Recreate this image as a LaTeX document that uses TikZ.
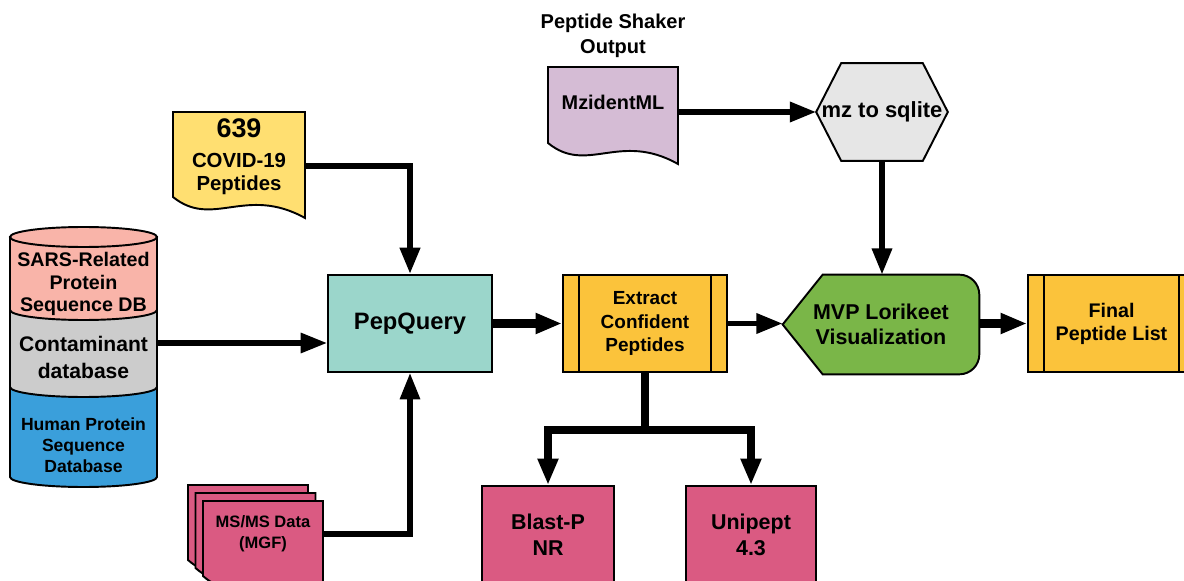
\documentclass[tikz,border=0pt]{standalone}
\usepackage{fontspec}
\setmainfont{Liberation Sans}
\usetikzlibrary{arrows.meta,calc,positioning,backgrounds}
\definecolor{dbpink}{HTML}{F9B4A9}
\definecolor{dbgray}{HTML}{CCCCCC}
\definecolor{dbblue}{HTML}{3A9FDB}
\definecolor{docyellow}{HTML}{FFDF71}
\definecolor{docpurple}{HTML}{D5BCD5}
\definecolor{mspink}{HTML}{DA5A82}
\definecolor{pepteal}{HTML}{9BD6CB}
\definecolor{procorange}{HTML}{FBC33B}
\definecolor{mvpgreen}{HTML}{7AB648}
\definecolor{hexgray}{HTML}{E6E6E6}

% document shape: fill, left, top, width, height of left side
\newcommand{\docshape}[5]{%
  \draw[shapeline, fill=#1] (#2,#3) -- ({#2+#4},#3) -- ({#2+#4},{#3+#5+21})
    .. controls ({#2+0.55*#4},{#3+#5-12}) and ({#2+0.3*#4},{#3+#5+32}) .. (#2,{#3+#5}) -- cycle;}

\begin{document}
\begin{tikzpicture}[x=0.02cm, y=-0.02cm,
  shapeline/.style={draw=black, line width=1.1pt},
  box/.style={shapeline, minimum width=3.28cm, minimum height=1.94cm, align=center, inner sep=0pt},
  txt/.style={align=center, inner sep=0pt},
  arr/.style={-{Triangle[length=15pt,width=11pt]}, line width=3.2pt},
  thickarr/.style={arr, line width=5.4pt}
]
  \useasboundingbox (0,0) rectangle (1184,581);
  \clip (0,0) rectangle (1184,581);

  % Sequence databases
  \foreach \yt/\yb/\col in {387/477/dbblue, 310/387/dbgray, 237/310/dbpink}
    \draw[shapeline, fill=\col] (10,\yt) -- (10,\yb)
      arc[start angle=180, end angle=360, x radius=1.47cm, y radius=0.2cm] -- (157,\yt) -- cycle;
  \draw[shapeline, fill=dbpink] (83.5,237) ellipse[x radius=1.47cm, y radius=0.2cm];
  \node[txt, font=\bfseries\fontsize{11.2}{13}\selectfont] (sars) at (83.5,284) {SARS-Related\\Protein\\Sequence DB};
  \node[txt, font=\bfseries\fontsize{12}{15.4}\selectfont] (contam) at (83.5,357) {Contaminant\\database};
  \node[txt, font=\bfseries\fontsize{10}{12}\selectfont] (human) at (83.5,445) {Human Protein\\Sequence\\Database};

  % Documents
  \docshape{docyellow}{173}{112}{132}{85}
  \node[txt, minimum width=2.64cm, font=\bfseries\fontsize{11.6}{13}\selectfont] (covid) at (239,157)
    {{\fontsize{15.3}{17}\selectfont 639}\\[4pt]COVID-19\\Peptides};
  \docshape{docpurple}{548}{67}{130}{76}
  \node[txt, minimum width=2.6cm, font=\bfseries\fontsize{11.3}{13}\selectfont] (mzid) at (613,102) {MzidentML};
  \node[txt, font=\bfseries\fontsize{11.4}{14.2}\selectfont] (shaker) at (613,36) {Peptide Shaker\\Output};
  \foreach \i in {0,1,2}
    \docshape{mspink}{188+7.5*\i}{485+8*\i}{120}{75}
  \node[txt, minimum width=2.4cm, font=\bfseries\fontsize{9.4}{12}\selectfont] (msms) at (263,534) {MS/MS Data\\(MGF)};

  % Process boxes
  \node[box, fill=pepteal, font=\bfseries\fontsize{13.5}{16}\selectfont] (pep) at (410,323.5) {PepQuery};
  \node[box, fill=procorange, font=\bfseries\fontsize{10.8}{13.4}\selectfont] (ext) at (645,323.5) {Extract\\Confident\\Peptides};
  \node[box, minimum width=3.34cm, fill=procorange, font=\bfseries\fontsize{11.2}{13}\selectfont] (fin) at (1111.5,323.5) {Final\\Peptide List};
  \foreach \n in {ext,fin} {
    \draw[shapeline] ($(\n.north west)+(17,0)$) -- ($(\n.south west)+(17,0)$);
    \draw[shapeline] ($(\n.north east)+(-17,0)$) -- ($(\n.south east)+(-17,0)$);
  }
  \node[box, minimum width=2.64cm, fill=mspink, font=\bfseries\fontsize{12.2}{14.8}\selectfont] (blast) at (548,534.5) {Blast-P\\NR};
  \node[box, minimum width=2.6cm, fill=mspink, font=\bfseries\fontsize{12.2}{14.8}\selectfont] (uni) at (751,534.5) {Unipept\\4.3};

  % Hexagon and display
  \node[txt, minimum width=2.62cm, minimum height=1.94cm, font=\bfseries\fontsize{12.5}{15}\selectfont] (mz) at (882,112) {mz to sqlite};
  \node[txt, minimum width=3.92cm, minimum height=1.98cm, font=\bfseries\fontsize{12.2}{14.2}\selectfont] (mvp) at (881,324.5) {MVP Lorikeet\\Visualization};
  \begin{scope}[on background layer]
    \draw[shapeline, fill=hexgray] (mz.west) -- ($(mz.north west)+(25,0)$) -- ($(mz.north east)+(-25,0)$)
      -- (mz.east) -- ($(mz.south east)+(-25,0)$) -- ($(mz.south west)+(25,0)$) -- cycle;
    \draw[shapeline, fill=mvpgreen] (mvp.west) -- ($(mvp.north west)+(40,0)$) -- ($(mvp.north east)+(-20,0)$)
      arc[start angle=90, end angle=0, radius=0.4cm] -- ($(mvp.south east)+(0,-20)$)
      arc[start angle=0, end angle=-90, radius=0.4cm] -- ($(mvp.south west)+(40,0)$) -- cycle;
  \end{scope}

  % Connectors
  \coordinate (dbout) at (157,343);
  \draw[arr, line width=2.9pt] (dbout) -- (dbout -| pep.west);
  \draw[arr, line width=3.4pt] ([yshift=-0.18cm]covid.east) -| (pep.north);
  \draw[arr, line width=2.9pt] (msms.east) -| (pep.south);
  \draw[thickarr] (pep.east) -- (ext.west);
  \draw[arr] (ext.east) -- (ext.east -| mvp.west);
  \draw[arr] (mzid.east |- mz.west) -- (mz.west);
  \draw[arr] (mz.south) -- (mz.south |- mvp.north);
  \draw[thickarr] (mvp.east |- fin.west) -- (fin.west);
  \coordinate (split) at ($(ext.south)+(0,57)$);
  \draw[arr, line width=4.6pt] (ext.south) -- (split) -| (blast.north);
  \draw[arr, line width=4.6pt] (split) -| (uni.north);
\end{tikzpicture}
\end{document}
